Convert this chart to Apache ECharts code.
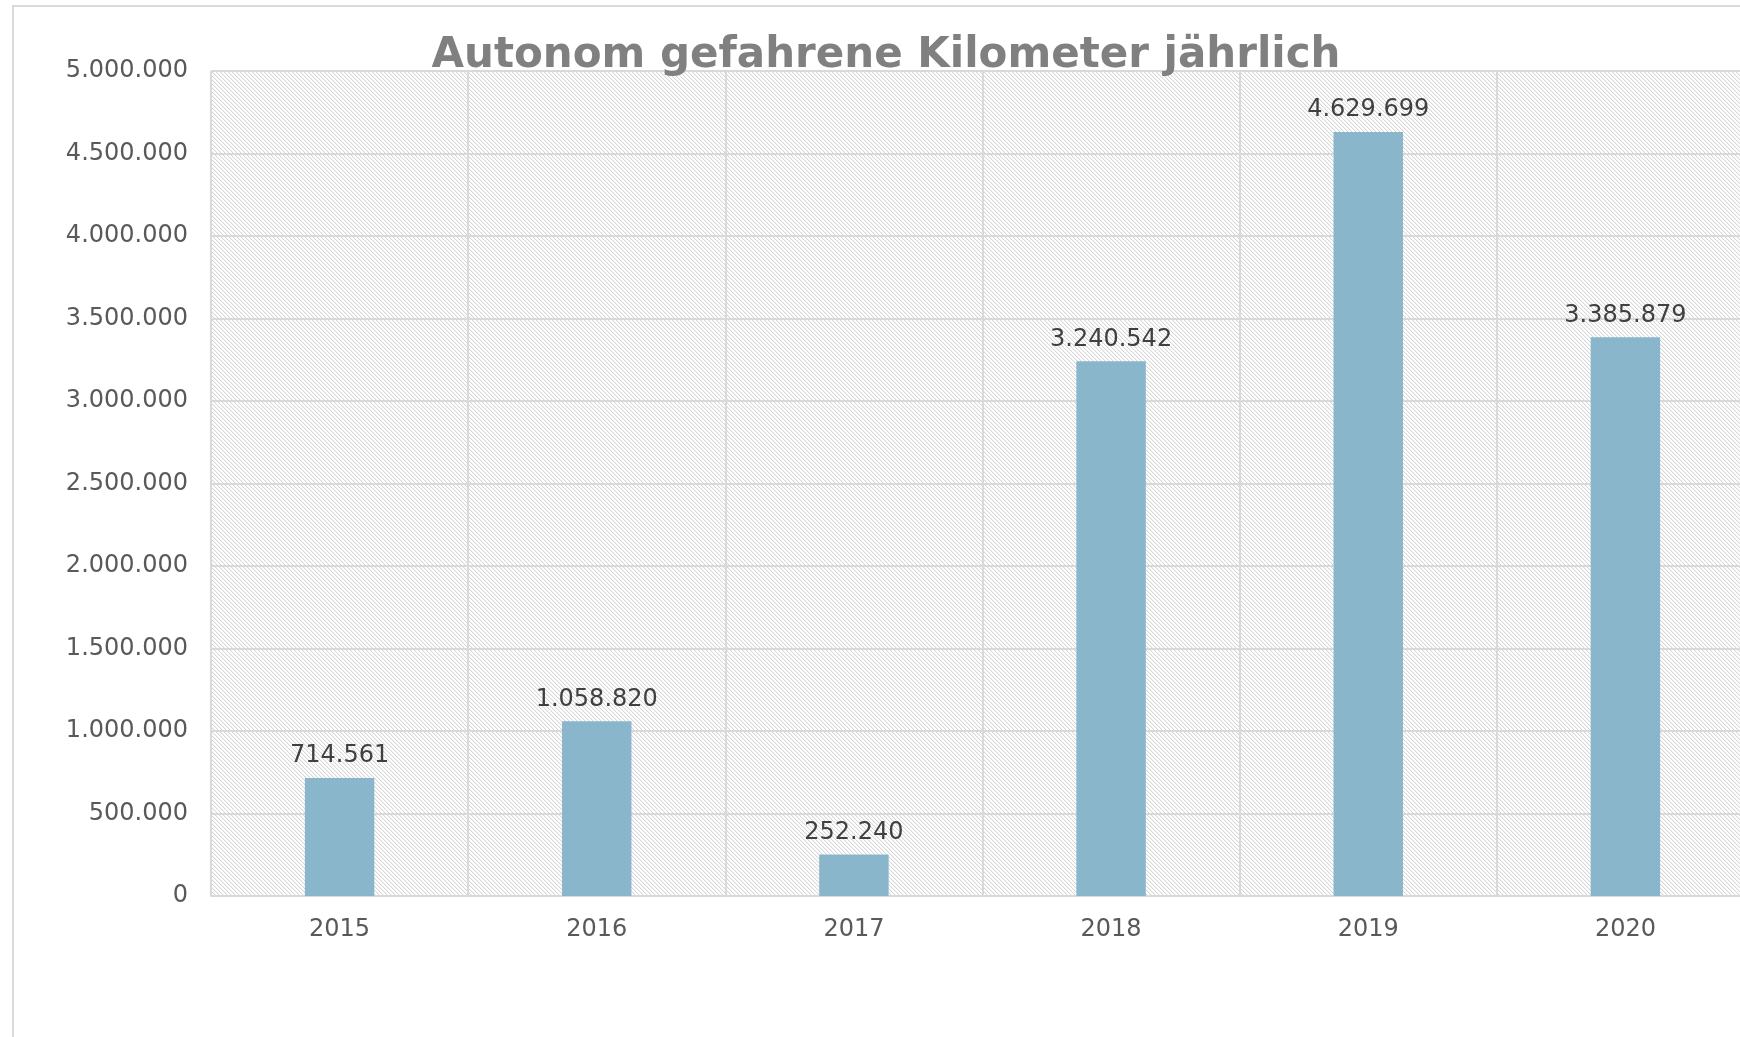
<!DOCTYPE html>
<html>
<head>
<meta charset="utf-8">
<script src="https://cdn.jsdelivr.net/npm/echarts@6/dist/echarts.min.js"></script>
<style>
  html, body { margin: 0; padding: 0; background: #fff; overflow: hidden; }
  #chart { width: 1754px; height: 1037px; }
</style>
</head>
<body>
<div id="chart"></div>
<script>
// Jahre und gefahrene Kilometer
const years = ['2015', '2016', '2017', '2018', '2019', '2020'];
const kilometers = [714561, 1058820, 252240, 3240542, 4629699, 3385879];
const yTicks = [0, 500000, 1000000, 1500000, 2000000, 2500000, 3000000, 3500000, 4000000, 4500000, 5000000];

// deutsche Tausendertrennung mit Punkt
function fmt (v) {
  return String(Math.round(v)).replace(/\B(?=(\d{3})+(?!\d))/g, '.');
}

// schraffiertes Muster für den Plotbereich
function hatch () {
  const c = document.createElement('canvas');
  c.width = 4;
  c.height = 4;
  const ctx = c.getContext('2d');
  ctx.fillStyle = '#ffffff';
  ctx.fillRect(0, 0, 4, 4);
  ctx.fillStyle = '#d6d6d6';
  for (let i = 0; i < 4; i++) {
    ctx.fillRect(i, i, 1, 1);
  }
  ctx.fillStyle = '#f4f4f4';
  for (let i = 0; i < 4; i++) {
    ctx.fillRect((i + 1) % 4, i, 1, 1);
  }
  return c;
}

const chart = echarts.init(document.getElementById('chart'));
const font = 'DejaVu Sans, Verdana, sans-serif';

const option = {
  animation: false,
  backgroundColor: '#ffffff',
  title: {
    text: 'Autonom gefahrene Kilometer jährlich',
    left: 881,
    top: 30,
    textAlign: 'center',
    textStyle: {
      fontFamily: font,
      fontSize: 42,
      fontWeight: 'bold',
      color: '#808080'
    }
  },
  graphic: [{
    type: 'rect',
    shape: { x: 13, y: 6, width: 1800, height: 1100 },
    style: { fill: 'none', stroke: '#d9d9d9', lineWidth: 2 },
    z: -10
  }],
  grid: {
    left: 211,
    right: 0,
    top: 71,
    bottom: 141,
    show: true,
    borderWidth: 0,
    backgroundColor: { image: hatch(), repeat: 'repeat' }
  },
  xAxis: {
    type: 'category',
    data: years,
    axisLine: { show: true, lineStyle: { color: '#d9d9d9', width: 2 } },
    axisTick: { show: false },
    splitLine: { show: true, lineStyle: { color: '#d9d9d9', width: 2 } },
    axisLabel: {
      fontFamily: font,
      fontSize: 24,
      color: '#595959',
      margin: 22
    }
  },
  yAxis: {
    type: 'value',
    min: yTicks[0],
    max: yTicks[yTicks.length - 1],
    interval: yTicks[1] - yTicks[0],
    axisLine: { show: false },
    axisTick: { show: false },
    splitLine: { show: true, lineStyle: { color: '#d9d9d9', width: 2 } },
    axisLabel: {
      fontFamily: font,
      fontSize: 24,
      color: '#595959',
      margin: 23,
      formatter: fmt
    }
  },
  series: [{
    type: 'bar',
    data: kilometers,
    barWidth: '27%',
    itemStyle: { color: '#8ab6cb' },
    label: {
      show: true,
      position: 'top',
      distance: 10,
      fontFamily: font,
      fontSize: 24,
      color: '#404040',
      formatter: (p) => fmt(p.value)
    }
  }]
};

chart.setOption(option);
</script>
</body>
</html>
